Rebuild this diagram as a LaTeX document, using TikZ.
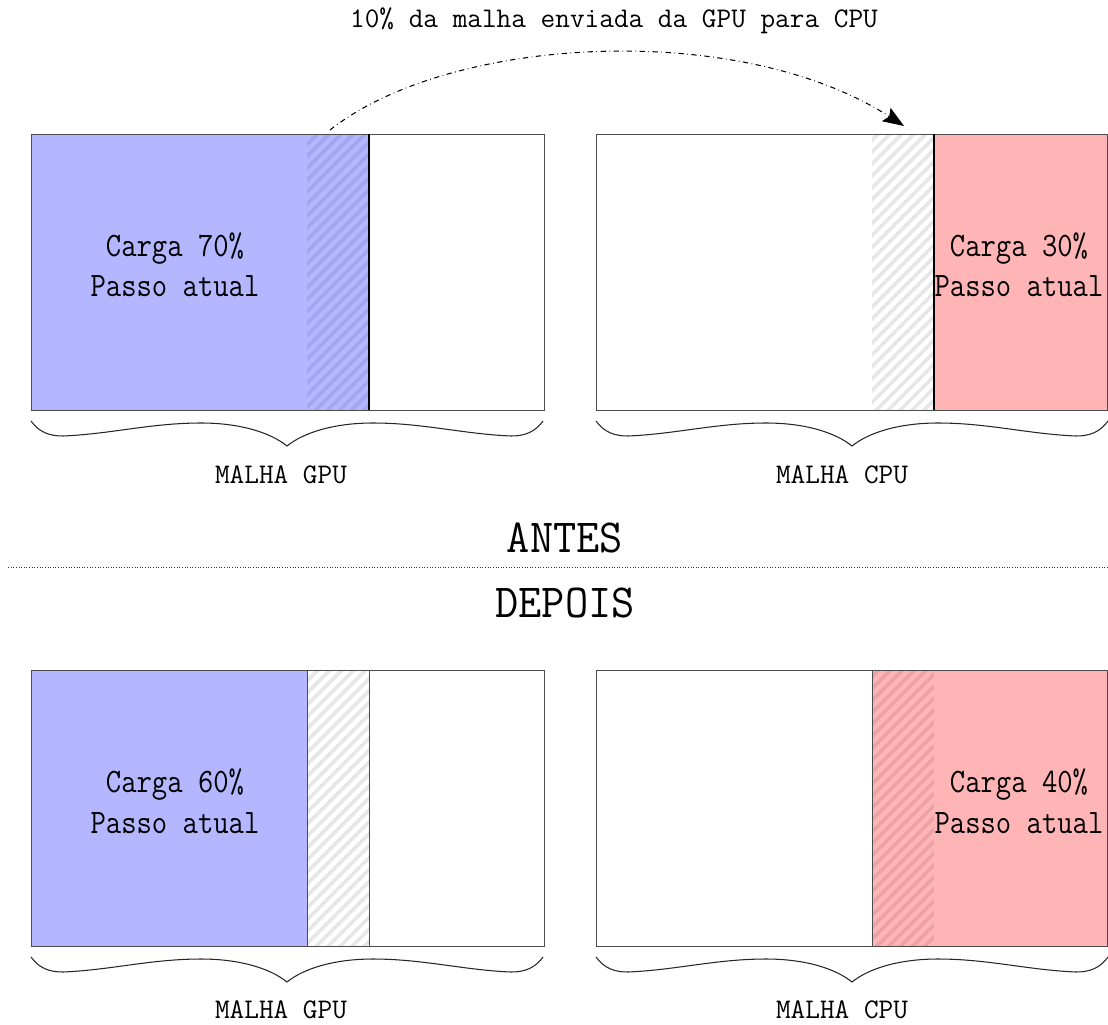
\documentclass[tikz,border=0pt]{standalone}
\usepackage{fontspec}
\usetikzlibrary{patterns.meta,arrows.meta}
\definecolor{gpufill}{RGB}{180,183,255}
\definecolor{gpuhatch}{RGB}{162,166,234}
\definecolor{cpufill}{RGB}{255,181,181}
\definecolor{cpuhatch}{RGB}{234,162,165}
\definecolor{greyhatch}{RGB}{230,230,230}
\tikzset{
  frame/.style={draw=black!70,line width=0.5pt},
  stripes/.style={pattern={Lines[angle=45,distance=4.8pt,line width=2pt]},pattern color=#1},
  hatchgpu/.style={fill=gpufill,postaction={stripes=gpuhatch}},
  hatchcpu/.style={fill=cpufill,postaction={stripes=cpuhatch}},
  hatchgrey/.style={fill=white,postaction={stripes=greyhatch}},
  loadtext/.style={font=\ttfamily\fontsize{19.5}{23}\selectfont,align=center,xscale=0.87,transform shape},
  meshtext/.style={font=\ttfamily\fontsize{16.2}{20}\selectfont},
  phasetext/.style={font=\ttfamily\fontsize{27}{30}\selectfont,xscale=0.95,transform shape},
  % wavy curly brace under a mesh, 512 units wide, tip pointing down
  meshbrace/.pic={
    \draw[line width=0.6pt,black!85]
      (0,3) .. controls (8,14) and (18,18) .. (32,18)
            .. controls (80,16) and (120,5) .. (170,5)
            .. controls (210,5) and (240,15) .. (256,28)
            .. controls (272,15) and (302,5) .. (342,5)
            .. controls (392,5) and (432,16) .. (480,18)
            .. controls (494,18) and (504,14) .. (512,3);
  },
}
\begin{document}
\begin{tikzpicture}[x=0.02cm,y=-0.02cm]
\useasboundingbox (0,0) rectangle (1108,1024);

% ---------- before: GPU mesh ----------
\fill[gpufill] (31,134) rectangle (307,410);
\path[hatchgpu] (307,134) rectangle (369,410);
\draw[frame] (31,134) rectangle (544,410);
\draw[black,line width=0.9pt] (369,134) -- (369,410);
\node[loadtext] (gpuA) at (175,265) {Carga 70\%\\Passo atual};

% ---------- before: CPU mesh ----------
\path[hatchgrey] (872,134) rectangle (934,410);
\fill[cpufill] (934,134) rectangle (1107,410);
\draw[frame] (596,134) rectangle (1107,410);
\draw[black,line width=0.9pt] (934,134) -- (934,410);
\node[loadtext] (cpuA) at (1019,265) {Carga 30\%\\Passo atual};

% braces and labels (before)
\pic at (31,418) {meshbrace};
\pic at (596,418) {meshbrace};
\node[meshtext] (gpuMeshA) at (281,475) {MALHA GPU};
\node[meshtext] (cpuMeshA) at (842,475) {MALHA CPU};

% transfer arrow
\coordinate (src) at (330,130);
\coordinate (dst) at (904,126);
\node[meshtext] (title) at (614,21) {10\% da malha enviada da GPU para CPU};
\draw[dash dot,line width=0.6pt,-{Stealth[length=12pt,width=9pt,inset=2pt]}]
  (src) .. controls (450,35) and (740,20) .. (dst);

% ---------- separator ----------
\node[phasetext] (antes) at (565,538) {ANTES};
\coordinate (sepL) at (8,567);
\coordinate (sepR) at (1108,567);
\draw[densely dotted,black!80,line width=0.5pt] (sepL) -- (sepR);
\node[phasetext] (depois) at (565,603) {DEPOIS};

% ---------- after: GPU mesh ----------
\fill[gpufill] (31,670) rectangle (307,946);
\path[hatchgrey] (307,670) rectangle (369,946);
\draw[frame] (31,670) rectangle (544,946);
\draw[frame] (307,670) -- (307,946);
\draw[frame] (369,670) -- (369,946);
\node[loadtext] (gpuB) at (175,801) {Carga 60\%\\Passo atual};

% ---------- after: CPU mesh ----------
\path[hatchcpu] (872,670) rectangle (934,946);
\fill[cpufill] (934,670) rectangle (1107,946);
\draw[frame] (596,670) rectangle (1107,946);
\draw[frame] (872,670) -- (872,946);
\node[loadtext] (cpuB) at (1019,801) {Carga 40\%\\Passo atual};

% braces and labels (after)
\pic at (31,954) {meshbrace};
\pic at (596,954) {meshbrace};
\node[meshtext] (gpuMeshB) at (281,1010) {MALHA GPU};
\node[meshtext] (cpuMeshB) at (842,1010) {MALHA CPU};
\end{tikzpicture}
\end{document}
